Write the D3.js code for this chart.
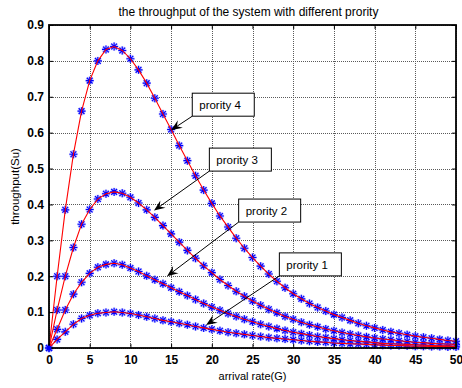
<!DOCTYPE html>
<html>
<head>
<meta charset="utf-8">
<script src="https://cdn.jsdelivr.net/npm/d3@7"></script>
<style>
  html, body { margin: 0; padding: 0; background: #fff; }
  svg { display: block; font-family: Arial, "Liberation Sans", sans-serif; }
</style>
</head>
<body>
<svg id="chart" width="462" height="388"></svg>
<script>
// arrival rate G
const arrivalRate = [0,1,2,3,4,5,6,7,8,9,10,11,12,13,14,15,16,17,18,19,20,21,22,23,24,25,
  26,27,28,29,30,31,32,33,34,35,36,37,38,39,40,41,42,43,44,45,46,47,48,49,50];

// throughput Su for each priority class
const priority4 = [0,0.200,0.385,0.540,0.660,0.745,0.800,0.832,0.840,0.829,0.806,0.775,0.738,0.696,
  0.652,0.609,0.564,0.522,0.480,0.440,0.403,0.368,0.337,0.306,0.278,0.252,0.228,0.206,0.186,0.168,
  0.151,0.137,0.124,0.113,0.103,0.093,0.085,0.077,0.069,0.062,0.056,0.050,0.045,0.041,0.037,0.033,
  0.030,0.027,0.024,0.021,0.019];
const priority3 = [0,0.106,0.200,0.280,0.345,0.386,0.415,0.430,0.435,0.431,0.420,0.404,0.385,0.364,
  0.341,0.318,0.295,0.272,0.250,0.229,0.210,0.191,0.174,0.158,0.144,0.131,0.119,0.108,0.098,0.088,
  0.080,0.072,0.065,0.059,0.053,0.048,0.043,0.039,0.035,0.031,0.028,0.025,0.023,0.020,0.018,0.016,
  0.015,0.013,0.012,0.011,0.010];
const priority2 = [0,0.052,0.106,0.150,0.183,0.208,0.225,0.233,0.236,0.232,0.223,0.213,0.201,0.190,
  0.179,0.168,0.157,0.146,0.135,0.124,0.114,0.105,0.096,0.088,0.080,0.073,0.066,0.060,0.054,0.049,
  0.044,0.040,0.036,0.032,0.029,0.026,0.023,0.021,0.019,0.017,0.015,0.013,0.012,0.011,0.010,0.009,
  0.008,0.007,0.006,0.006,0.005];
const priority1 = [0,0.024,0.045,0.066,0.082,0.091,0.097,0.099,0.101,0.099,0.096,0.092,0.087,0.082,
  0.077,0.073,0.069,0.065,0.060,0.056,0.052,0.048,0.044,0.041,0.038,0.035,0.032,0.029,0.027,0.025,
  0.023,0.021,0.019,0.017,0.016,0.014,0.013,0.012,0.011,0.010,0.009,0.008,0.007,0.007,0.006,0.005,
  0.005,0.004,0.004,0.003,0.003];

const xTicks = [0,5,10,15,20,25,30,35,40,45,50];
const yTicks = [0,0.1,0.2,0.3,0.4,0.5,0.6,0.7,0.8,0.9];

// text callouts: label, arrow tip (G, Su), box left/top in data units
const calloutLabels = ["prority 4","prority 3","prority 2","prority 1"];
const calloutTips = [[15.0,0.607],[12.9,0.383],[14.5,0.200],[19.3,0.064]];
const calloutBoxes = [[17.6,0.710],[19.7,0.557],[23.3,0.415],[28.3,0.265]];

const title = "the throughput of the system with different prority";
const xLabel = "arrival rate(G)";
const yLabel = "throughput(Su)";

const svg = d3.select("#chart");
const W = 462, H = 388;
const m = { left: 49, right: 6, top: 25, bottom: 40 };

const x = d3.scaleLinear().domain([0, 50]).range([m.left, W - m.right]);
const y = d3.scaleLinear().domain([0, 0.9]).range([H - m.bottom, m.top]);
const x0 = x.range()[0], x1 = x.range()[1], y0 = y.range()[0], y1 = y.range()[1];

// dotted grid
const grid = svg.append("g").attr("class", "grid");
grid.append("g").attr("transform", `translate(0,${y0})`)
  .call(d3.axisBottom(x).tickValues(xTicks).tickSize(-(y0 - y1)).tickFormat(""));
grid.append("g").attr("transform", `translate(${x0},0)`)
  .call(d3.axisLeft(y).tickValues(yTicks).tickSize(-(x1 - x0)).tickFormat(""));
grid.selectAll(".domain").remove();
grid.selectAll("line").attr("stroke", "#5a5a5a").attr("stroke-width", 1)
  .attr("stroke-dasharray", "1,1").attr("shape-rendering", "crispEdges");

// series
const series = [priority1, priority2, priority3, priority4];
const star = (r) => {
  const a = r * 0.72;
  return `M${-r},0L${r},0M0,${-r}L0,${r}M${-a},${-a}L${a},${a}M${-a},${a}L${a},${-a}`;
};
const plot = svg.append("g");
series.forEach(vals => {
  const pts = arrivalRate.map((g, i) => [g, vals[i]]);
  const mk = plot.append("g");
  mk.selectAll("path.halo").data(pts).join("path")
    .attr("class", "halo")
    .attr("transform", d => `translate(${x(d[0])},${y(d[1])})`)
    .attr("d", star(4.2)).attr("stroke", "#8c8cff").attr("stroke-width", 2.4)
    .attr("stroke-opacity", 0.55).attr("fill", "none");
  mk.selectAll("path.mark").data(pts).join("path")
    .attr("class", "mark")
    .attr("transform", d => `translate(${x(d[0])},${y(d[1])})`)
    .attr("d", star(4)).attr("stroke", "#0000ff").attr("stroke-width", 1.1).attr("fill", "none");
});
series.forEach(vals => {
  const pts = arrivalRate.map((g, i) => [g, vals[i]]);
  plot.append("path").datum(pts)
    .attr("d", d3.line().x(d => x(d[0])).y(d => y(d[1])))
    .attr("fill", "none").attr("stroke", "#ff0000").attr("stroke-width", 1.1);
});

// axes with inward ticks on all four sides
const tickFont = (g) => g.selectAll("text").attr("font-size", 12).attr("font-weight", "bold")
  .attr("fill", "#000").attr("font-family", "Arial, 'Liberation Sans', sans-serif");
const ax = svg.append("g");
ax.append("g").attr("transform", `translate(0,${y0})`)
  .call(d3.axisBottom(x).tickValues(xTicks).tickSize(-4).tickPadding(7).tickFormat(d3.format("d")))
  .call(tickFont);
ax.append("g").attr("transform", `translate(${x0},0)`)
  .call(d3.axisLeft(y).tickValues(yTicks).tickSize(-4).tickPadding(5)
    .tickFormat(d => d === 0 ? "0" : d3.format(".1f")(d)))
  .call(tickFont);
ax.append("g").attr("transform", `translate(0,${y1})`)
  .call(d3.axisTop(x).tickValues(xTicks).tickSize(-4).tickFormat(""));
ax.append("g").attr("transform", `translate(${x1},0)`)
  .call(d3.axisRight(y).tickValues(yTicks).tickSize(-4).tickFormat(""));
ax.selectAll(".domain").remove();
ax.selectAll("line").attr("stroke", "#000").attr("stroke-width", 1);
svg.append("rect").attr("x", x0).attr("y", y1).attr("width", x1 - x0).attr("height", y0 - y1)
  .attr("fill", "none").attr("stroke", "#000").attr("stroke-width", 1.8);

// origin blob where all series start
svg.append("circle").attr("cx", x(0)).attr("cy", y(0)).attr("r", 2.5).attr("fill", "#0000ff");

// callouts
const ann = svg.append("g");
calloutLabels.forEach((lab, i) => {
  const bx = x(calloutBoxes[i][0]), by = y(calloutBoxes[i][1]);
  const bw = 62, bh = 23;
  const tx = x(calloutTips[i][0]), ty = y(calloutTips[i][1]);
  const sx = bx, sy = by + bh;
  const ang = Math.atan2(ty - sy, tx - sx);
  const L = 11, Wd = 4.5, notch = 7;
  const ca = Math.cos(ang), sa = Math.sin(ang);
  const p = (l, w) => [tx - l * ca - w * sa, ty - l * sa + w * ca];
  ann.append("line").attr("x1", sx).attr("y1", sy).attr("x2", p(notch, 0)[0]).attr("y2", p(notch, 0)[1])
    .attr("stroke", "#000").attr("stroke-width", 1);
  ann.append("path").attr("d", "M" + [[tx, ty], p(L, Wd), p(notch, 0), p(L, -Wd)].map(q => q.join(",")).join("L") + "Z")
    .attr("fill", "#000");
  ann.append("rect").attr("x", bx).attr("y", by).attr("width", bw).attr("height", bh)
    .attr("fill", "#fff").attr("stroke", "#000").attr("stroke-width", 1);
  ann.append("text").attr("x", bx + 7).attr("y", by + 16).attr("font-size", 11.5)
    .attr("fill", "#000").text(lab);
});

// labels
svg.append("text").attr("x", (x0 + x1) / 2 - 4).attr("y", 16).attr("text-anchor", "middle")
  .attr("font-size", 12).attr("fill", "#000").text(title);
svg.append("text").attr("x", (x0 + x1) / 2).attr("y", 380).attr("text-anchor", "middle")
  .attr("font-size", 11).attr("fill", "#000").text(xLabel);
svg.append("text").attr("transform", `translate(18.5,${(y0 + y1) / 2}) rotate(-90)`)
  .attr("text-anchor", "middle").attr("font-size", 11.5).attr("fill", "#000").text(yLabel);
</script>
</body>
</html>
